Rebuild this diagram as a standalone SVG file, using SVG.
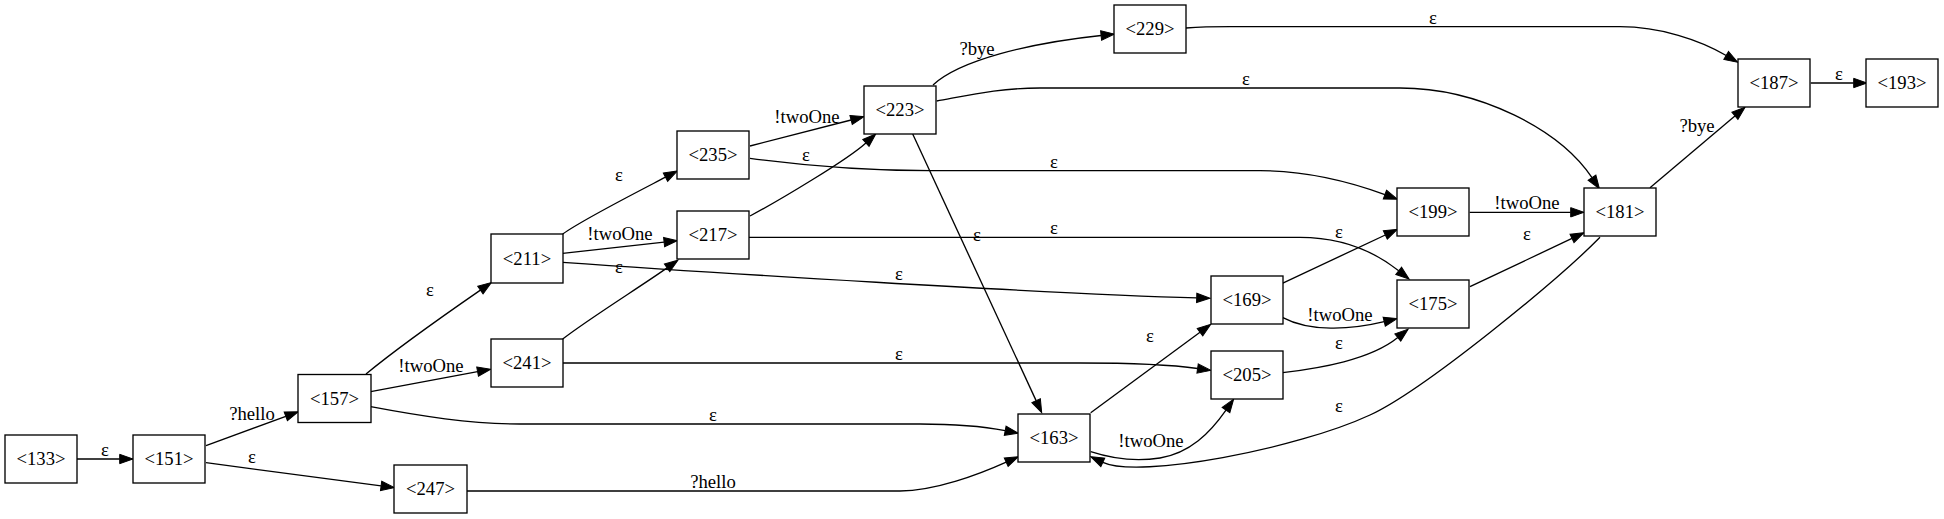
<svg xmlns="http://www.w3.org/2000/svg" width="1944" height="519" viewBox="0 0 1944 519">
<style>
.n rect{fill:#fff;stroke:#000;stroke-width:1.33}
text{font-family:"Liberation Serif","Times New Roman",serif;font-size:18.67px;text-anchor:middle;fill:#000}
.e path{fill:none;stroke:#000;stroke-width:1.33;marker-end:url(#ah)}
</style>
<defs>
<marker id="ah" markerWidth="14" markerHeight="10" refX="0" refY="5" orient="auto" markerUnits="userSpaceOnUse" overflow="visible">
<path d="M0,0.33 L13.3,5 L0,9.67 Z" fill="#000" stroke="#000" stroke-width="1"/>
</marker>
</defs>
<rect width="1944" height="519" fill="#fff"/>
<g id="edges" class="e">
<path d="M77,459 L119.7,459"/>
<path d="M206,445.7 L285.8,416.3"/>
<path d="M206,462.7 L381.1,485.9"/>
<path d="M366,374 C395,350 440,318 480.4,290.1"/>
<path d="M370.7,391.7 L477.6,371.7"/>
<path d="M370.7,406.7 C420,416 470,424 520,424 L920,424 C950,424 980,425.8 1005.2,430.7"/>
<path d="M467,491 L900,491 C935,491 979,474.5 1006.2,462.2"/>
<path d="M562.7,234 C583,219.5 638.9,191.1 665.5,177.2"/>
<path d="M562.7,253.3 L664.1,242.1"/>
<path d="M562.7,262.3 C700,272 1050,294 1196.7,297.9"/>
<path d="M562.7,339 C590,318 640,287 667.1,267.9"/>
<path d="M563,363 L1080,363 C1130,363 1170,364.5 1197.6,368.5"/>
<path d="M750,146 L851.1,120"/>
<path d="M750,158.3 C800,165 860,170.7 930,170.7 L1260,170.7 C1300,170.7 1345,180 1384.9,194.6"/>
<path d="M750,216 C780,200 847.4,159.7 865.9,142.9"/>
<path d="M749,237.3 L1300,237.3 C1335,237.3 1370,248 1398.7,270.8"/>
<path d="M933,85 C960,60 1030,43 1101.1,35.5"/>
<path d="M936.7,101 C970,95 1000,88 1040,88 L1400,88 C1480,88 1560,130 1592,177.7"/>
<path d="M912.7,134 L1036.1,400.6"/>
<path d="M1186,28 C1200,27 1210,26.7 1230,26.7 L1620,26.7 C1660,26.7 1700,40 1726.2,55.5"/>
<path d="M1282.3,283.3 L1385.3,235"/>
<path d="M1282.3,317.3 C1310,332 1350,330 1384.2,321.7"/>
<path d="M1090.7,412.7 L1200,332.2"/>
<path d="M1090.7,451.7 C1110,458 1135,462 1160,458 C1190,453 1210,433 1226,410.1"/>
<path d="M1282.7,372.7 C1320,368 1370,360 1397.8,337.5"/>
<path d="M1469.7,212.3 L1570.7,212.3"/>
<path d="M1470,286.7 L1572,238.4"/>
<path d="M1600,237.3 C1558,280 1424.4,389.7 1370,415 C1297.4,448.7 1139.1,479.1 1102.8,462.3"/>
<path d="M1650,187.7 L1734.9,115.9"/>
<path d="M1810.7,83 L1853.7,83"/>
</g>
<g id="edge-labels">
<text x="105" y="456">ε</text>
<text x="252" y="420">?hello</text>
<text x="252" y="463">ε</text>
<text x="430" y="296">ε</text>
<text x="431" y="372">!twoOne</text>
<text x="713" y="421">ε</text>
<text x="713" y="488">?hello</text>
<text x="619" y="181">ε</text>
<text x="620" y="240">!twoOne</text>
<text x="619" y="273">ε</text>
<text x="899" y="280">ε</text>
<text x="899" y="360">ε</text>
<text x="807" y="123">!twoOne</text>
<text x="806" y="160.5">ε</text>
<text x="1054" y="168">ε</text>
<text x="1054" y="234">ε</text>
<text x="977" y="55">?bye</text>
<text x="1246" y="85">ε</text>
<text x="977" y="240.5">ε</text>
<text x="1433" y="24">ε</text>
<text x="1150" y="341.5">ε</text>
<text x="1151" y="446.5">!twoOne</text>
<text x="1339" y="238">ε</text>
<text x="1340" y="321">!twoOne</text>
<text x="1339" y="349">ε</text>
<text x="1339" y="411.5">ε</text>
<text x="1527" y="209">!twoOne</text>
<text x="1527" y="240">ε</text>
<text x="1697" y="132">?bye</text>
<text x="1839" y="80">ε</text>
</g>
<g id="n133" class="n"><rect x="5" y="435" width="72" height="48"/><text x="41" y="465">&lt;133&gt;</text></g>
<g id="n151" class="n"><rect x="133" y="435" width="72" height="48"/><text x="169" y="465">&lt;151&gt;</text></g>
<g id="n157" class="n"><rect x="298" y="374.5" width="73" height="48"/><text x="334.5" y="404.5">&lt;157&gt;</text></g>
<g id="n247" class="n"><rect x="394" y="465" width="73" height="48"/><text x="430.5" y="495">&lt;247&gt;</text></g>
<g id="n211" class="n"><rect x="491" y="234" width="72" height="49"/><text x="527" y="264.5">&lt;211&gt;</text></g>
<g id="n241" class="n"><rect x="491" y="339" width="72" height="48"/><text x="527" y="369">&lt;241&gt;</text></g>
<g id="n217" class="n"><rect x="677" y="211" width="72" height="48"/><text x="713" y="241">&lt;217&gt;</text></g>
<g id="n235" class="n"><rect x="677" y="131" width="72" height="48"/><text x="713" y="161">&lt;235&gt;</text></g>
<g id="n223" class="n"><rect x="864" y="86" width="72" height="48"/><text x="900" y="116">&lt;223&gt;</text></g>
<g id="n229" class="n"><rect x="1114" y="5" width="72" height="48"/><text x="1150" y="35">&lt;229&gt;</text></g>
<g id="n169" class="n"><rect x="1211" y="276" width="72" height="48"/><text x="1247" y="306">&lt;169&gt;</text></g>
<g id="n205" class="n"><rect x="1211" y="351" width="72" height="48"/><text x="1247" y="381">&lt;205&gt;</text></g>
<g id="n163" class="n"><rect x="1018" y="414" width="72" height="48"/><text x="1054" y="444">&lt;163&gt;</text></g>
<g id="n199" class="n"><rect x="1397" y="188" width="72" height="48"/><text x="1433" y="218">&lt;199&gt;</text></g>
<g id="n175" class="n"><rect x="1397" y="280" width="72" height="48"/><text x="1433" y="310">&lt;175&gt;</text></g>
<g id="n181" class="n"><rect x="1584" y="188" width="72" height="48"/><text x="1620" y="218">&lt;181&gt;</text></g>
<g id="n187" class="n"><rect x="1738" y="59" width="72" height="48"/><text x="1774" y="89">&lt;187&gt;</text></g>
<g id="n193" class="n"><rect x="1866" y="59" width="72" height="48"/><text x="1902" y="89">&lt;193&gt;</text></g>
</svg>
